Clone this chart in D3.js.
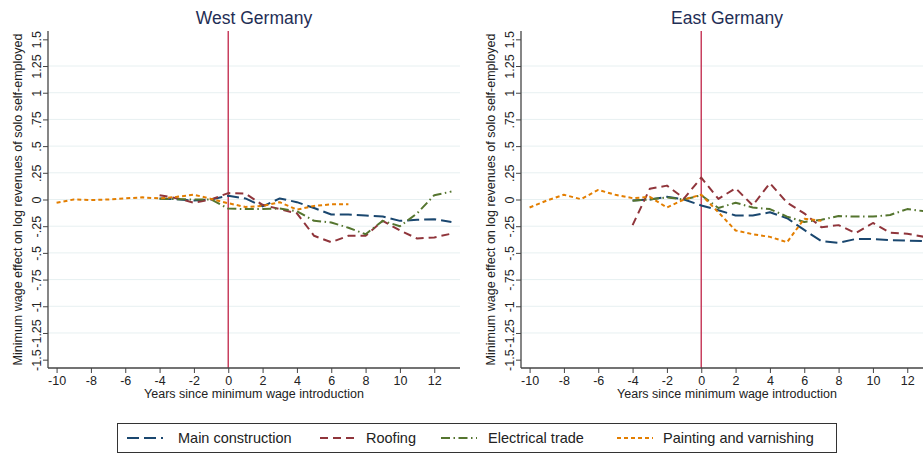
<!DOCTYPE html>
<html><head><meta charset="utf-8">
<script src="https://cdn.jsdelivr.net/npm/d3@7"></script>
<style>body{margin:0;background:#fff;} svg{display:block;font-family:"Liberation Sans",Arial,sans-serif;}</style>
</head><body>
<svg id="chart" width="923" height="454"></svg>
<script>
// ---- data ----
const panels = ["West Germany", "East Germany"];
const seriesNames = ["Main construction", "Roofing", "Electrical trade", "Painting and varnishing"];
const yearsShort = [-4,-3,-2,-1,0,1,2,3,4,5,6,7,8,9,10,11,12,13];
const yearsPaint = [-10,-9,-8,-7,-6,-5,-4,-3,-2,-1,0,1,2,3,4,5,6,7];
const xTicks = [-10,-8,-6,-4,-2,0,2,4,6,8,10,12];
const xTickLabels = ["-10","-8","-6","-4","-2","0","2","4","6","8","10","12"];
const yTicks = [1.5,1.25,1,0.75,0.5,0.25,0,-0.25,-0.5,-0.75,-1,-1.25,-1.5];
const yTickLabels = ["1.5","1.25","1",".75",".5",".25","0","-.25","-.5","-.75","-1","-1.25","-1.5"];

const westMain  = [0.01,0.003,-0.01,0.0,0.035,0.01,-0.065,0.01,-0.025,-0.08,-0.14,-0.14,-0.15,-0.16,-0.2,-0.19,-0.185,-0.21];
const westRoof  = [0.04,0.012,-0.03,0.0,0.06,0.055,-0.05,-0.09,-0.13,-0.34,-0.4,-0.34,-0.34,-0.2,-0.29,-0.365,-0.355,-0.32];
const westElec  = [0.006,0.003,0.0,0.0,-0.085,-0.09,-0.09,-0.085,-0.11,-0.2,-0.215,-0.265,-0.325,-0.2,-0.25,-0.13,0.04,0.075];
const westPaint = [-0.03,0.0,-0.005,0.0,0.01,0.02,0.01,0.025,0.045,0.006,-0.035,-0.07,-0.06,-0.025,-0.095,-0.06,-0.045,-0.045];

const eastMain  = [-0.01,0.0,0.025,0.0,-0.056,-0.1,-0.15,-0.15,-0.12,-0.175,-0.285,-0.39,-0.405,-0.37,-0.37,-0.38,-0.385,-0.39];
const eastRoof  = [-0.24,0.1,0.13,0.01,0.205,0.006,0.106,-0.056,0.153,-0.03,-0.13,-0.26,-0.24,-0.315,-0.22,-0.31,-0.32,-0.35];
const eastElec  = [-0.012,0.0,0.02,0.0,0.04,-0.08,-0.03,-0.075,-0.09,-0.16,-0.21,-0.19,-0.155,-0.16,-0.16,-0.145,-0.09,-0.11];
const eastPaint = [-0.075,-0.01,0.044,0.003,0.09,0.044,0.0125,0.025,-0.075,0.0,0.045,-0.12,-0.29,-0.325,-0.35,-0.4,-0.18,-0.2];

const colors = ["#1a476f","#90353b","#55752f","#e37e00"];
const dashes = ["12 5","8 5","9 3.5 1.5 3.5","4 3"];

const panelData = [
  [ {x:yearsShort,y:westMain},{x:yearsShort,y:westRoof},{x:yearsShort,y:westElec},{x:yearsPaint,y:westPaint} ],
  [ {x:yearsShort,y:eastMain},{x:yearsShort,y:eastRoof},{x:yearsShort,y:eastElec},{x:yearsPaint,y:eastPaint} ]
];

// ---- layout ----
const svg = d3.select("#chart");
const panelLeft = [48, 521];
const plotW = 412, plotTop = 31, plotBottom = 368;
const y = d3.scaleLinear().domain([-1.578, 1.578]).range([plotBottom, plotTop]);

panels.forEach((title, p) => {
  const x0 = panelLeft[p];
  const x = d3.scaleLinear().domain([-10.5, 13.5]).range([x0, x0 + plotW]);
  const g = svg.append("g");

  // grid
  g.selectAll("line.grid").data(yTicks.filter(v => Math.abs(v) < 1.5)).enter().append("line")
    .attr("x1", x0).attr("x2", x0 + plotW)
    .attr("y1", d => y(d)).attr("y2", d => y(d))
    .attr("stroke", "#e7f0f1").attr("stroke-width", 1);

  // vertical line at 0
  g.append("line").attr("x1", x(0)).attr("x2", x(0)).attr("y1", plotTop).attr("y2", plotBottom)
    .attr("stroke", "#c8405f").attr("stroke-width", 1.5);

  // series lines
  const line = d3.line().x(d => x(d[0])).y(d => y(d[1]));
  panelData[p].forEach((s, i) => {
    const pts = s.x.map((xv, k) => [xv, s.y[k]]);
    g.append("path").datum(pts).attr("d", line)
      .attr("fill", "none").attr("stroke", colors[i]).attr("stroke-width", 2)
      .attr("stroke-dasharray", dashes[i]).attr("stroke-linejoin", "round");
  });

  // y axis
  const yAxis = d3.axisLeft(y).tickValues(yTicks).tickSize(5).tickFormat((d, k) => yTickLabels[k]);
  const ya = g.append("g").attr("transform", `translate(${x0},0)`).call(yAxis);
  ya.select(".domain").attr("stroke", "#444").attr("stroke-width", 1.3).attr("d", `M-0,${plotTop}V${plotBottom}`);
  ya.selectAll(".tick line").attr("stroke", "#444");
  ya.selectAll(".tick text")
    .attr("x", 0).attr("dy", 0)
    .attr("transform", "translate(-7,0) rotate(-90)")
    .attr("text-anchor", "middle")
    .attr("font-size", 12.5).attr("fill", "#222")
    .attr("font-family", "Liberation Sans, Arial, sans-serif");

  // x axis
  const xAxis = d3.axisBottom(x).tickValues(xTicks).tickSize(5).tickFormat((d, k) => xTickLabels[k]);
  const xa = g.append("g").attr("transform", `translate(0,${plotBottom})`).call(xAxis);
  xa.select(".domain").attr("stroke", "#444").attr("stroke-width", 1.3).attr("d", `M${x0},0H${x0 + plotW}`);
  xa.selectAll(".tick line").attr("stroke", "#444");
  xa.selectAll(".tick text").attr("font-size", 12.5).attr("fill", "#222").attr("y", 8).attr("dy", "0.71em")
    .attr("font-family", "Liberation Sans, Arial, sans-serif");

  // axis titles
  g.append("text").attr("x", x0 + plotW / 2).attr("y", 398).attr("text-anchor", "middle")
    .attr("font-size", 12.5).attr("fill", "#222").text("Years since minimum wage introduction");
  g.append("text").attr("transform", `translate(${x0 - 26},${(plotTop + plotBottom) / 2}) rotate(-90)`)
    .attr("text-anchor", "middle").attr("font-size", 12.5).attr("fill", "#222")
    .text("Minimum wage effect on log revenues of solo self-employed");

  // panel title
  g.append("text").attr("x", x0 + plotW / 2).attr("y", 24).attr("text-anchor", "middle")
    .attr("font-size", 17.5).attr("fill", "#1f2e55").text(title);
});

// legend
const lg = svg.append("g");
lg.append("rect").attr("x", 117.5).attr("y", 423.5).attr("width", 719).attr("height", 29)
  .attr("fill", "#fff").attr("stroke", "#333").attr("stroke-width", 1);
const legendLineX = [127, 320, 441, 617];
const legendTextX = [178, 366, 488, 663];
seriesNames.forEach((name, i) => {
  lg.append("line").attr("x1", legendLineX[i]).attr("x2", legendLineX[i] + 36)
    .attr("y1", 438).attr("y2", 438)
    .attr("stroke", colors[i]).attr("stroke-width", 2).attr("stroke-dasharray", dashes[i]);
  lg.append("text").attr("x", legendTextX[i]).attr("y", 443).attr("font-size", 14.5)
    .attr("fill", "#222").text(name);
});
</script>
</body></html>
